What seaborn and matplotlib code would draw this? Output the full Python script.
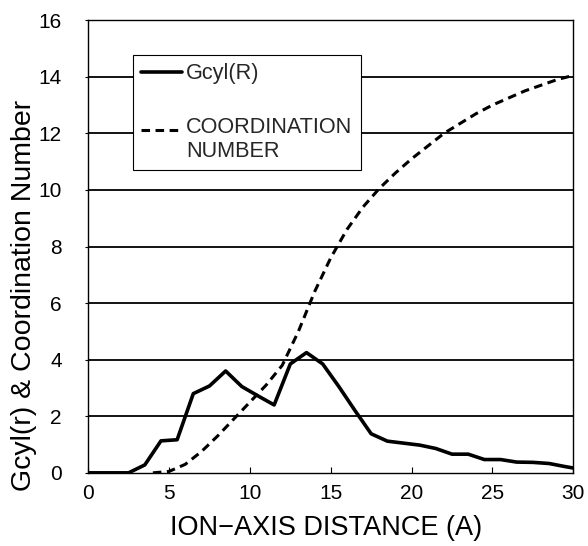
import matplotlib
matplotlib.use("Agg")
import matplotlib.pyplot as plt
import seaborn as sns
import pandas as pd
import numpy as np

# Data
r_gcyl = [0, 0.5, 1.5, 2.5, 3.5, 4.5, 5.5, 6.5, 7.5, 8.5, 9.5, 10.5, 11.5, 12.5,
          13.5, 14.5, 15.5, 16.5, 17.5, 18.5, 19.5, 20.5, 21.5, 22.5, 23.5, 24.5,
          25.5, 26.5, 27.5, 28.5, 29.5, 30]
gcyl = [0, 0, 0, 0.0, 0.28, 1.13, 1.17, 2.8, 3.07, 3.6, 3.05, 2.72, 2.4, 3.85,
        4.25, 3.85, 3.05, 2.2, 1.38, 1.12, 1.05, 0.98, 0.86, 0.66, 0.66, 0.47,
        0.47, 0.38, 0.37, 0.33, 0.22, 0.17]

r_coord = [4, 5, 6, 7, 8, 9, 10, 11, 12, 13, 14, 15, 16, 17, 18, 19, 20, 21,
           22, 23, 24, 25, 26, 27, 28, 29, 30]
coord = [0, 0.05, 0.3, 0.75, 1.3, 1.9, 2.5, 3.1, 3.8, 5.0, 6.4, 7.6, 8.6, 9.4,
         10.05, 10.6, 11.1, 11.55, 12.0, 12.35, 12.7, 13.0, 13.25, 13.5, 13.7,
         13.9, 14.05]

x_ticks = [0, 5, 10, 15, 20, 25, 30]
y_ticks = [0, 2, 4, 6, 8, 10, 12, 14, 16]

sns.set_theme(style="white")
plt.rcParams['font.family'] = ['Liberation Sans', 'DejaVu Sans']

fig = plt.figure(figsize=(5.88, 5.46), dpi=100)
ax = fig.add_axes([0.150, 0.134, 0.825, 0.829])

df_g = pd.DataFrame({"r": r_gcyl, "v": gcyl})
df_c = pd.DataFrame({"r": r_coord, "v": coord})

for yv in y_ticks[1:-1]:
    ax.axhline(yv, color="black", lw=1.3, zorder=1)

sns.lineplot(data=df_g, x="r", y="v", ax=ax, color="black", lw=2.6,
             label="Gcyl(R)", zorder=3)
sns.lineplot(data=df_c, x="r", y="v", ax=ax, color="black", lw=2.2,
             linestyle=(0, (2.8, 1.8)), label="COORDINATION\nNUMBER", zorder=3)

ax.set_xlim(0, 30)
ax.set_ylim(0, 16)
ax.set_xticks(x_ticks)
ax.set_yticks(y_ticks)
ax.tick_params(axis="x", direction="in", length=4, width=0.8, labelsize=15,
               pad=8, colors="black", bottom=True)
ax.tick_params(axis="y", direction="out", length=2, width=0.8, labelsize=15,
               pad=17, colors="black", left=True)
for s in ax.spines.values():
    s.set_color("black")
    s.set_linewidth(1.0)

ax.set_xlabel("ION\u2212AXIS DISTANCE (A)", fontsize=19.5, color="black")
ax.set_ylabel("Gcyl(r) & Coordination Number", fontsize=20.5, color="black")
ax.xaxis.set_label_coords(0.49, -0.094)
ax.yaxis.set_label_coords(-0.105, 0.393)

leg = ax.legend(loc="upper left", bbox_to_anchor=(0.0928, 0.9227), fontsize=15.6,
                frameon=True, fancybox=False, framealpha=1, edgecolor="black",
                handlelength=1.87, handletextpad=0.2, labelspacing=1.5,
                borderpad=0.38, borderaxespad=0)
leg.get_frame().set_linewidth(0.8)
for t in leg.get_texts():
    t.set_linespacing(1.2)
# put dashed handle on the first line of its two-line label
dl = leg.get_lines()[1]
dl.set_ydata(np.asarray(dl.get_ydata(), dtype=float) + 7)

fig.savefig("out.png", dpi=100)
